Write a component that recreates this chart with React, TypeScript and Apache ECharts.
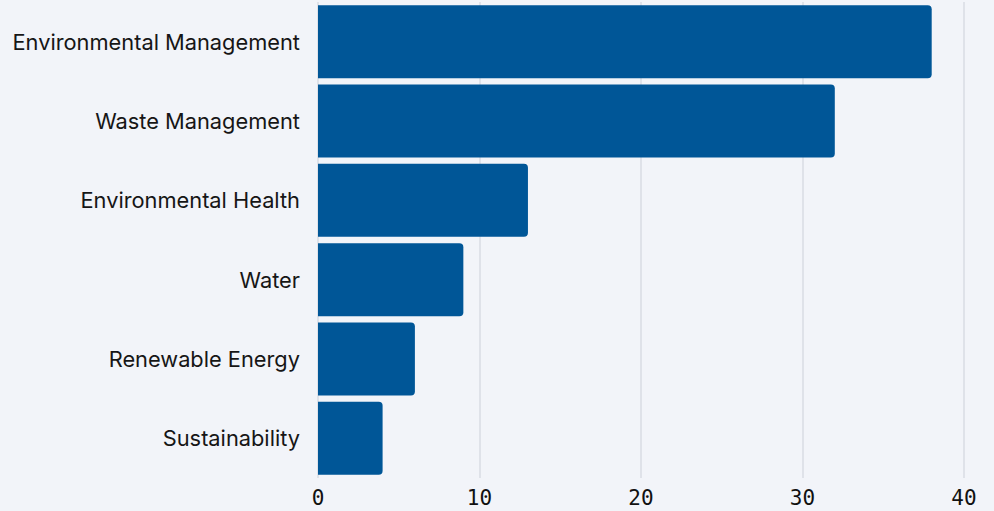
import React, { useEffect, useRef } from "react";
import * as echarts from "echarts";

const categories = [
  "Environmental Management",
  "Waste Management",
  "Environmental Health",
  "Water",
  "Renewable Energy",
  "Sustainability",
];
const values = [38, 32, 13, 9, 6, 4];
const xTicks = { min: 0, max: 40, interval: 10 };

export default function App() {
  const ref = useRef<HTMLDivElement>(null);
  useEffect(() => {
    document.body.style.margin = "0";
    const chart = echarts.init(ref.current!, null, { renderer: "svg" });
    chart.setOption({
      animation: false,
      backgroundColor: "#f2f4f9",
      grid: { left: 318, right: 30, top: 2, bottom: 33, containLabel: false },
      xAxis: {
        type: "value",
        min: xTicks.min,
        max: xTicks.max,
        interval: xTicks.interval,
        axisLine: { show: false },
        axisTick: { show: false },
        splitLine: { show: true, lineStyle: { color: "#d9dce3", width: 1.5 } },
        axisLabel: {
          fontFamily: "DejaVu Sans Mono",
          fontSize: 21,
          color: "#111111",
          margin: 9,
        },
      },
      yAxis: {
        type: "category",
        data: categories,
        inverse: true,
        axisLine: { show: false },
        axisTick: { show: false },
        axisLabel: {
          fontFamily: "Inter",
          fontSize: 21.8,
          color: "#161616",
          margin: 18,
        },
      },
      series: [
        {
          type: "bar",
          data: values,
          barCategoryGap: "8%",
          itemStyle: { color: "#005697", borderRadius: [0, 4, 4, 0] },
        },
      ],
    });
    return () => chart.dispose();
  }, []);
  return <div ref={ref} style={{ width: 994, height: 511 }} />;
}
